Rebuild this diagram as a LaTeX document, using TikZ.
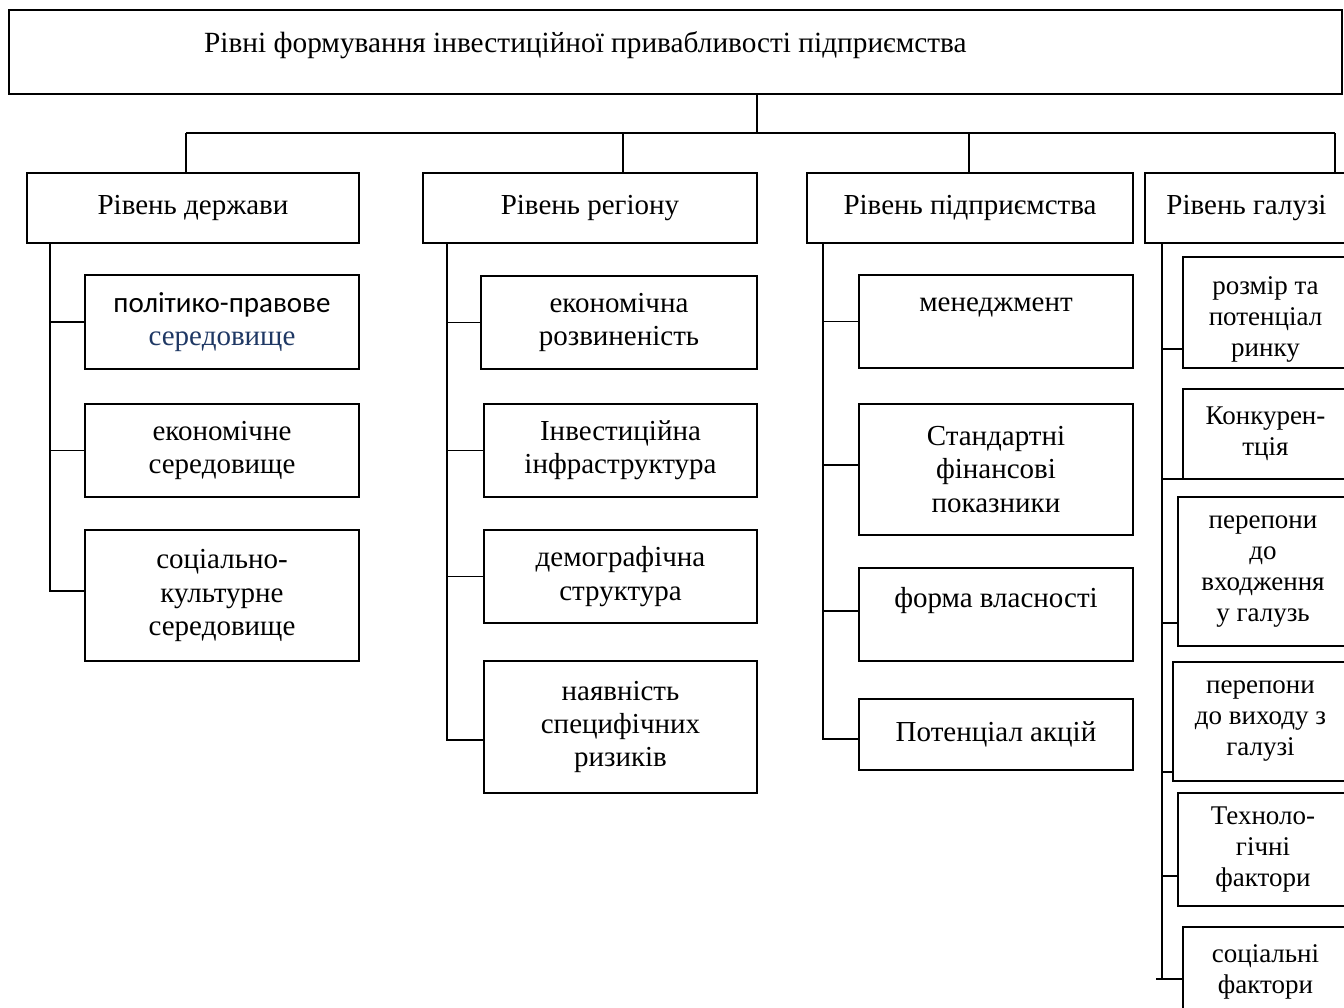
\documentclass[tikz,border=0pt]{standalone}
\usepackage{fontspec}
\setmainfont{Liberation Serif}
\newfontfamily\calib{Carlito}
\usetikzlibrary{calc}
\definecolor{dblue}{HTML}{1F3864}
\newcommand\mybx[7]{%
  \pgfmathsetmacro\bxw{#5-#3}\pgfmathsetmacro\bxh{#6-#4}%
  \node[#1,minimum width=\bxw pt,minimum height=\bxh pt] (#2) at ({(#3+#5)/2},{(#4+#6)/2}) {#7};}
\begin{document}
\begin{tikzpicture}[x=1pt,y=-1pt,
  ln/.style={line width=1.6pt},
  box/.style={draw,line width=1.6pt,inner sep=0pt,align=center,font=\fontsize{29}{33.4}\selectfont},
  sbox/.style={box,font=\fontsize{27}{31}\selectfont},
  stxt/.style={inner sep=0pt,align=center,font=\fontsize{27}{31}\selectfont}]
\useasboundingbox (0,0) rectangle (1344,1008);
\clip (0,0) rectangle (1344,1008);
% title
\mybx{box}{title}{9}{10}{1342}{94}{}
\node[anchor=west,inner sep=0pt,font=\fontsize{29.3}{33}\selectfont] (ttl) at (204,45) {Рівні формування інвестиційної привабливості підприємства};
% levels
\mybx{box}{L1}{27}{173}{359}{243}{Рівень держави}
\mybx{box}{L2}{423}{173}{757}{243}{Рівень регіону}
\mybx{box}{L3}{807}{173}{1133}{243}{Рівень підприємства}
\mybx{box}{L4}{1145}{173}{1348}{243}{Рівень галузі}
% column 1
\mybx{box}{a1}{85}{275}{359}{369}{{\calib політико-правове}\\{\color{dblue}середовище}}
\mybx{box}{a2}{85}{404}{359}{497}{економічне\\середовище}
\mybx{box}{a3}{85}{530}{359}{661}{соціально-\\культурне\\середовище}
% column 2
\mybx{box}{b1}{481}{276}{757}{369}{економічна\\розвиненість}
\mybx{box}{b2}{484}{404}{757}{497}{Інвестиційна\\інфраструктура}
\mybx{box}{b3}{484}{530}{757}{623}{демографічна\\структура}
\mybx{box}{b4}{484}{661}{757}{793}{наявність\\специфічних\\ризиків}
% column 3
\mybx{box}{c1}{859}{275}{1133}{368}{менеджмент\\~}
\mybx{box}{c2}{859}{404}{1133}{535}{Стандартні\\фінансові\\показники}
\mybx{box}{c3}{859}{568}{1133}{661}{форма власності\\~}
\mybx{box}{c4}{859}{699}{1133}{770}{Потенціал акцій}
% column 4
\mybx{sbox}{e1}{1183}{257}{1348}{368}{}
\node[stxt] (e1t) at ($(e1.center)+(0,7)$) {розмір та\\потенціал\\ринку};
\mybx{sbox}{e2}{1183}{389}{1348}{479}{Конкурен-\\тція}
\mybx{sbox}{e3}{1178}{497}{1348}{646}{перепони\\до\\входження\\у галузь}
\mybx{sbox}{e4}{1173}{662}{1348}{781}{перепони\\до виходу з\\галузі}
\mybx{sbox}{e5}{1178}{793}{1348}{906}{Техноло-\\гічні\\фактори}
\mybx{sbox}{e6}{1183}{927}{1348}{1016}{соціальні\\фактори}
% bus
\coordinate (dm) at (757,133);
\coordinate (d1) at (186,133);
\coordinate (d2) at (623,133);
\coordinate (d3) at (969,133);
\coordinate (d4) at (1335,133);
\draw[ln] (title.south -| dm) -- (dm);
\draw[ln] (d1) -- (d4);
\draw[ln] (d1) -- (d1 |- L1.north);
\draw[ln] (d2) -- (d2 |- L2.north);
\draw[ln] (d3) -- (d3 |- L3.north);
\draw[ln] (d4) -- (d4 |- L4.north);
% spine 1
\coordinate (s1) at (50,591);
\draw[ln] (L1.south -| s1) -- (s1) -- (s1 -| a3.west);
\draw[ln] (a1.west -| s1) -- (a1.west);
\draw[ln] (a2.west -| s1) -- (a2.west);
% spine 2
\coordinate (s2) at (447,740);
\draw[ln] (L2.south -| s2) -- (s2) -- (s2 -| b4.west);
\draw[ln] (b1.west -| s2) -- (b1.west);
\draw[ln] (b2.west -| s2) -- (b2.west);
\draw[ln] (b3.west -| s2) -- (b3.west);
% spine 3
\coordinate (s3) at (823,739);
\draw[ln] (L3.south -| s3) -- (s3) -- (s3 -| c4.west);
\draw[ln] (c1.west -| s3) -- (c1.west);
\coordinate (k32) at (823,465);
\draw[ln] (k32) -- (k32 -| c2.west);
\coordinate (k33) at (823,611);
\draw[ln] (k33) -- (k33 -| c3.west);
% spine 4
\coordinate (s4) at (1162,979);
\coordinate (k1) at (1162,349);
\coordinate (k2) at (1162,479);
\coordinate (k3) at (1162,623);
\coordinate (k4) at (1162,772);
\coordinate (k5) at (1162,876);
\draw[ln] (L4.south -| s4) -- (s4);
\draw[ln] (k1) -- (k1 -| e1.west);
\draw[ln] (k2) -- ($(k2 -| e2.west)+(15,0)$);
\draw[ln] (k3) -- (k3 -| e3.west);
\draw[ln] (k4) -- (k4 -| e4.west);
\draw[ln] (k5) -- (k5 -| e5.west);
\draw[ln] ($(s4)+(-6,0)$) -- (s4 -| e6.west);
\end{tikzpicture}
\end{document}
